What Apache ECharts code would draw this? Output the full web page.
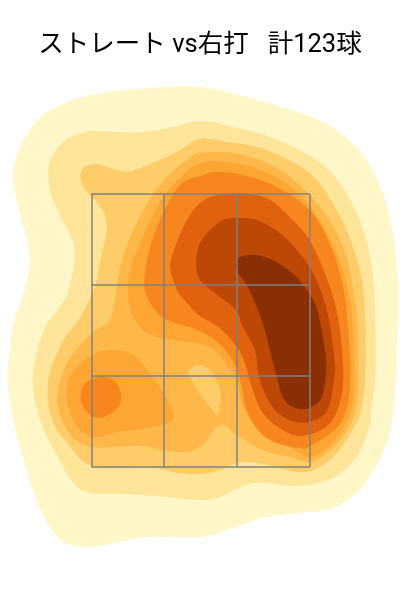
<!DOCTYPE html>
<html><head><meta charset="utf-8">
<style>html,body{margin:0;padding:0;background:#fff}#c{width:400px;height:600px}</style>
<script src="https://cdn.jsdelivr.net/npm/echarts@6/dist/echarts.min.js"></script>
</head><body><div id="c"></div>
<script>
const titleText = 'ストレート vs右打   計123球';
const level1 = [[109,380],[159,369],[216,352],[249,335],[276,307],[296,264],[306,210],[308,167],[307,117],[306,90],[301,40],[289,7],[269,-23],[242,-41],[209,-46],[176,-50],[142,-61],[109,-70],[56,-70],[22,-76],[-4,-80],[-28,-75],[-44,-56],[-58,-26],[-68,7],[-78,44],[-84,84],[-83,107],[-78,147],[-71,164],[-63,197],[-63,220],[-71,250],[-78,280],[-78,300],[-68,327],[-51,350],[-24,365],[9,374],[59,379]];
const level2 = [[109,346],[142,340],[182,329],[226,307],[252,280],[272,240],[282,197],[285,147],[285,90],[281,57],[279,40],[266,10],[242,-11],[209,-19],[169,-16],[149,-20],[129,-30],[109,-33],[76,-30],[36,-27],[-1,-26],[-18,-16],[-34,10],[-49,40],[-58,74],[-58,100],[-48,137],[-34,157],[-24,174],[-17,207],[-19,227],[-31,250],[-41,274],[-43,300],[-34,319],[-21,330],[-1,336],[26,335],[52,335],[82,340]];
const level3 = [[109,328],[136,325],[176,317],[219,294],[242,264],[259,230],[271,190],[275,147],[275,90],[271,57],[266,44],[249,17],[229,0],[209,-5],[176,2],[159,5],[146,4],[129,-3],[109,-7],[86,-6],[59,0],[1,1],[-24,24],[-38,44],[-44,70],[-41,97],[-28,127],[-11,150],[4,182],[9,207],[15,234],[14,250],[6,264],[-6,277],[-11,289],[-8,299],[4,303],[19,299],[36,295],[49,299],[69,307],[89,317]];
const level4 = [[109,314],[142,314],[176,304],[209,282],[239,247],[256,210],[264,170],[267,147],[268,90],[265,57],[254,32],[234,12],[218,5],[199,10],[172,17],[146,32],[129,42],[109,20],[86,15],[49,21],[22,20],[-1,20],[-18,29],[-31,50],[-34,70],[-29,94],[-18,114],[1,134],[16,144],[21,155],[24,170],[29,200],[39,230],[56,264],[76,290],[96,307]];
const island = [[97,94],[102,100],[109,102],[119,97],[127,84],[130,70],[127,52],[119,60],[109,73],[102,84]];
const level5 = [[109,304],[136,305],[169,297],[202,279],[229,247],[249,207],[259,170],[262,147],[264,90],[261,57],[249,32],[234,17],[218,10],[199,20],[176,29],[162,44],[151,64],[146,90],[137,100],[126,115],[109,123],[82,127],[56,134],[42,150],[37,167],[37,184],[42,207],[56,240],[72,270],[89,289]];
const level5b = [[24,117],[42,112],[56,97],[72,74],[82,54],[79,45],[56,39],[26,35],[2,30],[-14,40],[-24,64],[-23,87],[-11,104],[6,114]];
const level6 = [[109,291],[126,295],[152,292],[186,280],[219,257],[239,224],[252,184],[257,147],[260,90],[256,57],[244,37],[218,20],[209,19],[186,24],[169,35],[156,57],[151,80],[145,100],[132,120],[109,136],[76,147],[64,157],[56,170],[53,187],[59,220],[72,254],[89,282]];
const level6b = [[11,90],[24,85],[30,70],[24,57],[7,49],[-6,57],[-11,70],[-6,84]];
const level7 = [[109,264],[126,272],[146,274],[176,269],[199,250],[219,227],[237,187],[248,147],[253,90],[247,57],[234,39],[209,31],[189,39],[172,54],[162,77],[154,104],[146,120],[129,139],[109,151],[96,164],[86,177],[79,200],[84,220],[96,247]];
const level8 = [[109,224],[119,237],[132,247],[146,249],[166,247],[189,234],[209,214],[226,187],[238,150],[244,107],[244,90],[237,57],[219,45],[199,47],[182,60],[169,87],[164,117],[152,140],[145,157],[129,170],[109,187],[105,205]];
const level9 = [[146,207],[152,211],[166,212],[186,205],[206,190],[221,170],[227,157],[233,127],[236,102],[233,75],[227,64],[216,58],[202,60],[192,70],[186,90],[179,117],[172,144],[157,180],[146,196]];
const palette = ['#fff7c8','#fee59a','#fecc68','#feb84a','#fea633','#f7861e','#e1620e','#bd4805','#8a2f04'];
const regions = [
  [level1,0],[level2,1],[level3,2],[level4,3],[island,2],[level5,4],[level5b,4],
  [level6,5],[level6b,5],[level7,6],[level8,7],[level9,8]
];
function roundOutline(pts){
  const out=[], n=pts.length;
  for(let i=0;i<n;i++){
    const a=pts[(i-1+n)%n], b=pts[i], c=pts[(i+1)%n], d=pts[(i+2)%n];
    for(let k=0;k<10;k++){
      const t=k/10, t2=t*t, t3=t2*t;
      out.push([0,1].map(j=>0.5*(2*b[j]+(c[j]-a[j])*t+(2*a[j]-5*b[j]+4*c[j]-d[j])*t2+(3*b[j]-a[j]-3*c[j]+d[j])*t3)));
    }
  }
  return out;
}
const chart = echarts.init(document.getElementById('c'), null, {renderer:'canvas'});
const zoneAxis = (max, interval) => ({
  type:'value', min:0, max, interval, z:10,
  axisLine:{show:false}, axisTick:{show:false}, axisLabel:{show:false},
  splitLine:{show:true, lineStyle:{color:'#808080', width:1.5}}
});
chart.setOption({
  animation:false,
  title:{text:titleText, left:'center', top:28, textStyle:{fontFamily:'Roboto,"Noto Sans CJK JP",sans-serif', fontWeight:'normal', fontSize:25.5, color:'#000'}},
  grid:{left:91.5, top:194, width:218, height:273},
  xAxis:zoneAxis(219,73),
  yAxis:zoneAxis(273,91),
  series:[{
    type:'custom', coordinateSystem:'cartesian2d', silent:true, clip:false,
    data:regions.map((r,i)=>[i]),
    encode:{x:[],y:[]},
    renderItem:(params,api)=>{
      const r = regions[api.value(0)];
      return {type:'polygon', shape:{points:roundOutline(r[0]).map(p=>api.coord(p))}, style:{fill:palette[r[1]], stroke:null}};
    }
  }]
});
</script></body></html>
